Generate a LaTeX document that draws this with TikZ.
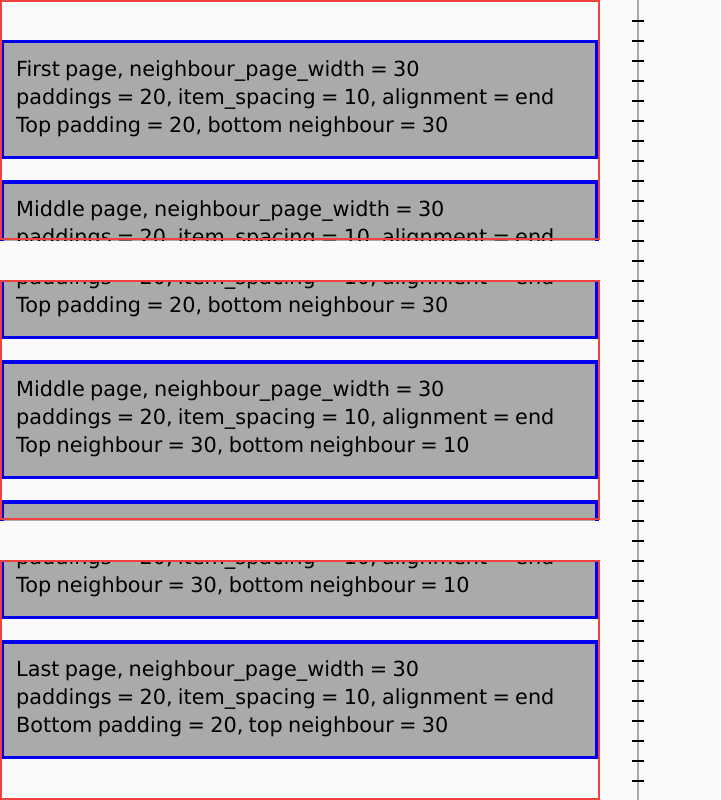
\documentclass[tikz,border=0pt]{standalone}
\usepackage{fontspec}
\setmainfont[WordSpace=0.8]{DejaVu Sans}
\definecolor{bgc}{HTML}{FAFAFA}
\definecolor{framec}{RGB}{240,64,64}
\definecolor{itemc}{RGB}{0,0,235}
\definecolor{fillc}{HTML}{AAAAAA}
\definecolor{rulec}{HTML}{AAAAAA}
\tikzset{
  pageframe/.style={draw=framec, line width=2pt},
  itembox/.style={fill=fillc, draw=itemc, line width=3.5pt},
  itemtext/.style={anchor=base west, inner sep=0pt, text=black, font=\fontsize{20.8}{28}\selectfont},
  rulerline/.style={draw=rulec, line width=2pt},
  rulertick/.style={draw=black, line width=2pt},
}
% #1 = top of item box (content y)
\newcommand\drawitem[1]{%
  \path[itembox] (2,#1+1.75) rectangle (597,#1+117.5);%
}
\begin{document}
\begin{tikzpicture}[x=1pt,y=-1pt]
\useasboundingbox (0,0) rectangle (720,800);
\fill[bgc] (0,0) rectangle (720,800);

% ---------- page 1 ----------
\begin{scope}
  \clip (0,0) rectangle (600,240);
  \drawitem{40}
  \node[itemtext] (p1a1) at (16,76.7) {First page, neighbour\_page\_width = 30};
  \node[itemtext] (p1a2) at (16,104.7) {paddings = 20, item\_spacing = 10, alignment = end};
  \node[itemtext] (p1a3) at (16,132.7) {Top padding = 20, bottom neighbour = 30};
  \drawitem{180}
  \node[itemtext] (p1b1) at (16,216.7) {Middle page, neighbour\_page\_width = 30};
  \node[itemtext] (p1b2) at (16,244.7) {paddings = 20, item\_spacing = 10, alignment = end};
\end{scope}
\path[pageframe] (1,1) rectangle (599,239);

% ---------- page 2 ----------
\begin{scope}
  \clip (0,280) rectangle (600,520);
  \drawitem{220}
  \node[itemtext] (p2a2) at (16,284.7) {paddings = 20, item\_spacing = 10, alignment = end};
  \node[itemtext] (p2a3) at (16,312.7) {Top padding = 20, bottom neighbour = 30};
  \drawitem{360}
  \node[itemtext] (p2b1) at (16,396.7) {Middle page, neighbour\_page\_width = 30};
  \node[itemtext] (p2b2) at (16,424.7) {paddings = 20, item\_spacing = 10, alignment = end};
  \node[itemtext] (p2b3) at (16,452.7) {Top neighbour = 30, bottom neighbour = 10};
  \drawitem{500}
\end{scope}
\path[pageframe] (1,281) rectangle (599,519);

% ---------- page 3 ----------
\begin{scope}
  \clip (0,560) rectangle (600,800);
  \drawitem{500}
  \node[itemtext] (p3a2) at (16,564.7) {paddings = 20, item\_spacing = 10, alignment = end};
  \node[itemtext] (p3a3) at (16,592.7) {Top neighbour = 30, bottom neighbour = 10};
  \drawitem{640}
  \node[itemtext] (p3b1) at (16,676.7) {Last page, neighbour\_page\_width = 30};
  \node[itemtext] (p3b2) at (16,704.7) {paddings = 20, item\_spacing = 10, alignment = end};
  \node[itemtext] (p3b3) at (16,732.7) {Bottom padding = 20, top neighbour = 30};
\end{scope}
\path[pageframe] (1,561) rectangle (599,799);

% ---------- ruler ----------
\path[rulerline] (637.7,0) -- (637.7,800);
\foreach \k in {0,...,38}
  \path[rulertick] (632,21+20*\k) -- (644,21+20*\k);
\end{tikzpicture}
\end{document}
